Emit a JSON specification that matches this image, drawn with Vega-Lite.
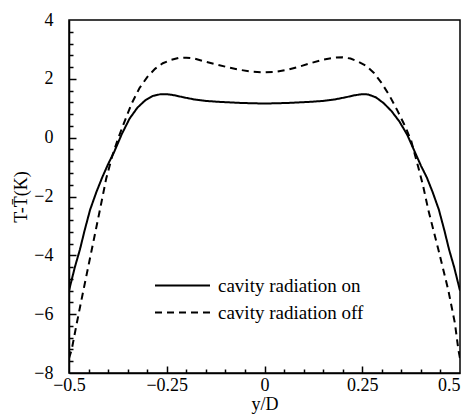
{
  "$schema": "https://vega.github.io/schema/vega-lite/v6.json",
  "autosize": {"type": "none"},
  "padding": {"left": 69, "top": 20, "right": 6, "bottom": 44},
  "width": 391,
  "height": 353,
  "background": "white",
  "config": {
    "font": "Liberation Serif",
    "view": {"stroke": "black", "strokeWidth": 1.5},
    "axis": {
      "labelFont": "Liberation Serif",
      "titleFont": "Liberation Serif",
      "labelColor": "black",
      "titleColor": "black",
      "domainColor": "black",
      "tickColor": "black",
      "domainWidth": 1.5,
      "tickWidth": 1.5,
      "grid": false,
      "labelFontSize": 18,
      "titleFontSize": 18,
      "titleFontWeight": "normal"
    },
    "legend": {"labelFont": "Liberation Serif"}
  },
  "datasets": {
    "curves": [
      {"yD": -0.5, "T": -5.2, "case": "cavity radiation on"},
      {"yD": -0.485, "T": -4.4, "case": "cavity radiation on"},
      {"yD": -0.472, "T": -3.8, "case": "cavity radiation on"},
      {"yD": -0.46, "T": -3.15, "case": "cavity radiation on"},
      {"yD": -0.446, "T": -2.45, "case": "cavity radiation on"},
      {"yD": -0.43, "T": -1.85, "case": "cavity radiation on"},
      {"yD": -0.415, "T": -1.35, "case": "cavity radiation on"},
      {"yD": -0.4, "T": -0.9, "case": "cavity radiation on"},
      {"yD": -0.385, "T": -0.5, "case": "cavity radiation on"},
      {"yD": -0.365, "T": 0.12, "case": "cavity radiation on"},
      {"yD": -0.345, "T": 0.65, "case": "cavity radiation on"},
      {"yD": -0.325, "T": 1.02, "case": "cavity radiation on"},
      {"yD": -0.305, "T": 1.27, "case": "cavity radiation on"},
      {"yD": -0.285, "T": 1.42, "case": "cavity radiation on"},
      {"yD": -0.265, "T": 1.48, "case": "cavity radiation on"},
      {"yD": -0.25, "T": 1.48, "case": "cavity radiation on"},
      {"yD": -0.23, "T": 1.44, "case": "cavity radiation on"},
      {"yD": -0.21, "T": 1.38, "case": "cavity radiation on"},
      {"yD": -0.18, "T": 1.3, "case": "cavity radiation on"},
      {"yD": -0.15, "T": 1.25, "case": "cavity radiation on"},
      {"yD": -0.12, "T": 1.22, "case": "cavity radiation on"},
      {"yD": -0.09, "T": 1.2, "case": "cavity radiation on"},
      {"yD": -0.06, "T": 1.18, "case": "cavity radiation on"},
      {"yD": -0.03, "T": 1.17, "case": "cavity radiation on"},
      {"yD": 0, "T": 1.16, "case": "cavity radiation on"},
      {"yD": 0.03, "T": 1.17, "case": "cavity radiation on"},
      {"yD": 0.06, "T": 1.18, "case": "cavity radiation on"},
      {"yD": 0.09, "T": 1.2, "case": "cavity radiation on"},
      {"yD": 0.12, "T": 1.22, "case": "cavity radiation on"},
      {"yD": 0.15, "T": 1.25, "case": "cavity radiation on"},
      {"yD": 0.18, "T": 1.3, "case": "cavity radiation on"},
      {"yD": 0.21, "T": 1.38, "case": "cavity radiation on"},
      {"yD": 0.23, "T": 1.44, "case": "cavity radiation on"},
      {"yD": 0.25, "T": 1.48, "case": "cavity radiation on"},
      {"yD": 0.265, "T": 1.47, "case": "cavity radiation on"},
      {"yD": 0.285, "T": 1.37, "case": "cavity radiation on"},
      {"yD": 0.305, "T": 1.17, "case": "cavity radiation on"},
      {"yD": 0.325, "T": 0.9, "case": "cavity radiation on"},
      {"yD": 0.345, "T": 0.55, "case": "cavity radiation on"},
      {"yD": 0.365, "T": 0.1, "case": "cavity radiation on"},
      {"yD": 0.385, "T": -0.5, "case": "cavity radiation on"},
      {"yD": 0.4, "T": -0.95, "case": "cavity radiation on"},
      {"yD": 0.415, "T": -1.35, "case": "cavity radiation on"},
      {"yD": 0.43, "T": -1.85, "case": "cavity radiation on"},
      {"yD": 0.446, "T": -2.45, "case": "cavity radiation on"},
      {"yD": 0.46, "T": -3.15, "case": "cavity radiation on"},
      {"yD": 0.472, "T": -3.8, "case": "cavity radiation on"},
      {"yD": 0.485, "T": -4.4, "case": "cavity radiation on"},
      {"yD": 0.5, "T": -5.2, "case": "cavity radiation on"},
      {"yD": -0.5, "T": -7.5, "case": "cavity radiation off"},
      {"yD": -0.493, "T": -7.2, "case": "cavity radiation off"},
      {"yD": -0.48, "T": -6.3, "case": "cavity radiation off"},
      {"yD": -0.463, "T": -5.18, "case": "cavity radiation off"},
      {"yD": -0.442, "T": -3.82, "case": "cavity radiation off"},
      {"yD": -0.421, "T": -2.46, "case": "cavity radiation off"},
      {"yD": -0.405, "T": -1.4, "case": "cavity radiation off"},
      {"yD": -0.39, "T": -0.65, "case": "cavity radiation off"},
      {"yD": -0.375, "T": -0.05, "case": "cavity radiation off"},
      {"yD": -0.36, "T": 0.48, "case": "cavity radiation off"},
      {"yD": -0.34, "T": 1.15, "case": "cavity radiation off"},
      {"yD": -0.32, "T": 1.68, "case": "cavity radiation off"},
      {"yD": -0.3, "T": 2.06, "case": "cavity radiation off"},
      {"yD": -0.28, "T": 2.34, "case": "cavity radiation off"},
      {"yD": -0.26, "T": 2.53, "case": "cavity radiation off"},
      {"yD": -0.24, "T": 2.64, "case": "cavity radiation off"},
      {"yD": -0.22, "T": 2.71, "case": "cavity radiation off"},
      {"yD": -0.2, "T": 2.72, "case": "cavity radiation off"},
      {"yD": -0.18, "T": 2.69, "case": "cavity radiation off"},
      {"yD": -0.15, "T": 2.58, "case": "cavity radiation off"},
      {"yD": -0.12, "T": 2.48, "case": "cavity radiation off"},
      {"yD": -0.09, "T": 2.38, "case": "cavity radiation off"},
      {"yD": -0.06, "T": 2.3, "case": "cavity radiation off"},
      {"yD": -0.03, "T": 2.24, "case": "cavity radiation off"},
      {"yD": 0, "T": 2.22, "case": "cavity radiation off"},
      {"yD": 0.03, "T": 2.24, "case": "cavity radiation off"},
      {"yD": 0.06, "T": 2.31, "case": "cavity radiation off"},
      {"yD": 0.09, "T": 2.42, "case": "cavity radiation off"},
      {"yD": 0.12, "T": 2.54, "case": "cavity radiation off"},
      {"yD": 0.15, "T": 2.65, "case": "cavity radiation off"},
      {"yD": 0.18, "T": 2.72, "case": "cavity radiation off"},
      {"yD": 0.2, "T": 2.73, "case": "cavity radiation off"},
      {"yD": 0.22, "T": 2.69, "case": "cavity radiation off"},
      {"yD": 0.24, "T": 2.58, "case": "cavity radiation off"},
      {"yD": 0.26, "T": 2.44, "case": "cavity radiation off"},
      {"yD": 0.28, "T": 2.2, "case": "cavity radiation off"},
      {"yD": 0.3, "T": 1.85, "case": "cavity radiation off"},
      {"yD": 0.32, "T": 1.42, "case": "cavity radiation off"},
      {"yD": 0.34, "T": 0.92, "case": "cavity radiation off"},
      {"yD": 0.36, "T": 0.38, "case": "cavity radiation off"},
      {"yD": 0.375, "T": -0.1, "case": "cavity radiation off"},
      {"yD": 0.393, "T": -0.99, "case": "cavity radiation off"},
      {"yD": 0.405, "T": -1.6, "case": "cavity radiation off"},
      {"yD": 0.419, "T": -2.46, "case": "cavity radiation off"},
      {"yD": 0.445, "T": -3.82, "case": "cavity radiation off"},
      {"yD": 0.47, "T": -5.18, "case": "cavity radiation off"},
      {"yD": 0.487, "T": -6.31, "case": "cavity radiation off"},
      {"yD": 0.496, "T": -7.22, "case": "cavity radiation off"},
      {"yD": 0.5, "T": -7.5, "case": "cavity radiation off"}
    ]
  },
  "data": {"name": "curves"},
  "resolve": {"axis": {"x": "independent", "y": "independent"}},
  "layer": [
    {
      "mark": {"type": "line", "strokeWidth": 0, "opacity": 0},
      "encoding": {
        "x": {
          "field": "yD",
          "type": "quantitative",
          "scale": {"domain": [-0.5, 0.5], "nice": false, "zero": false},
          "axis": {
            "orient": "bottom",
            "title": null,
            "labels": false,
            "domain": false,
            "ticks": true,
            "offset": -4,
            "tickSize": 4,
            "values": [-0.45, -0.4, -0.35, -0.3, -0.2, -0.15, -0.1, -0.05, 0.05, 0.1, 0.15, 0.2, 0.3, 0.35, 0.4, 0.45]
          }
        },
        "y": {
          "field": "T",
          "type": "quantitative",
          "scale": {"domain": [-8, 4], "nice": false, "zero": false},
          "axis": {
            "orient": "left",
            "title": null,
            "labels": false,
            "domain": false,
            "ticks": true,
            "offset": -4,
            "tickSize": 4,
            "values": [-7.6, -7.2, -6.8, -6.4, -5.6, -5.2, -4.8, -4.4, -3.6, -3.2, -2.8, -2.4, -1.6, -1.2, -0.8, -0.4, 0.4, 0.8, 1.2, 1.6, 2.4, 2.8, 3.2, 3.6]
          }
        },
        "detail": {"field": "case"}
      }
    },
    {
      "mark": {"type": "line", "strokeWidth": 0, "opacity": 0},
      "encoding": {
        "x": {
          "field": "yD",
          "type": "quantitative",
          "scale": {"domain": [-0.5, 0.5], "nice": false, "zero": false},
          "axis": {
            "orient": "bottom",
            "title": null,
            "labels": false,
            "domain": false,
            "ticks": true,
            "offset": -7,
            "tickSize": 7,
            "values": [-0.25, 0, 0.25]
          }
        },
        "y": {
          "field": "T",
          "type": "quantitative",
          "scale": {"domain": [-8, 4], "nice": false, "zero": false},
          "axis": {
            "orient": "left",
            "title": null,
            "labels": false,
            "domain": false,
            "ticks": true,
            "offset": -7,
            "tickSize": 7,
            "values": [-6, -4, -2, 0, 2]
          }
        },
        "detail": {"field": "case"}
      }
    },
    {
      "mark": {"type": "line", "strokeWidth": 2, "color": "black", "clip": true},
      "encoding": {
        "x": {
          "field": "yD",
          "type": "quantitative",
          "scale": {"domain": [-0.5, 0.5], "nice": false, "zero": false},
          "axis": {
            "orient": "bottom",
            "title": "y/D",
            "titlePadding": 1,
            "ticks": false,
            "values": [-0.5, -0.25, 0, 0.25, 0.5],
            "labelExpr": "format(datum.value, '~g')",
            "labelPadding": 3,
            "labelFlush": false,
            "labelOverlap": false,
            "labelAlign": {"condition": {"test": "datum.value > 0.4", "value": "right"}, "value": "center"},
            "labelDx": {"condition": {"test": "datum.value > 0.4", "value": 4}, "value": 0}
          }
        },
        "y": {
          "field": "T",
          "type": "quantitative",
          "scale": {"domain": [-8, 4], "nice": false, "zero": false},
          "axis": {
            "orient": "left",
            "title": "T-T̄(K)",
            "titlePadding": 3,
            "ticks": false,
            "values": [-8, -6, -4, -2, 0, 2, 4],
            "labelExpr": "format(datum.value, 'd')",
            "labelPadding": 16,
            "labelFlush": false,
            "labelOverlap": false
          }
        },
        "strokeDash": {
          "field": "case",
          "type": "nominal",
          "scale": {"domain": ["cavity radiation on", "cavity radiation off"], "range": [[1, 0], [7, 5]]},
          "legend": {
            "title": null,
            "orient": "none",
            "legendX": 104,
            "legendY": 256,
            "symbolType": "M-5,0H5",
            "symbolSize": 121,
            "symbolStrokeWidth": 1.8,
            "symbolStrokeColor": "black",
            "labelFont": "Liberation Serif",
            "labelFontSize": 19,
            "labelColor": "black",
            "labelOffset": 26,
            "rowPadding": 7,
            "padding": 0
          }
        }
      }
    }
  ]
}
